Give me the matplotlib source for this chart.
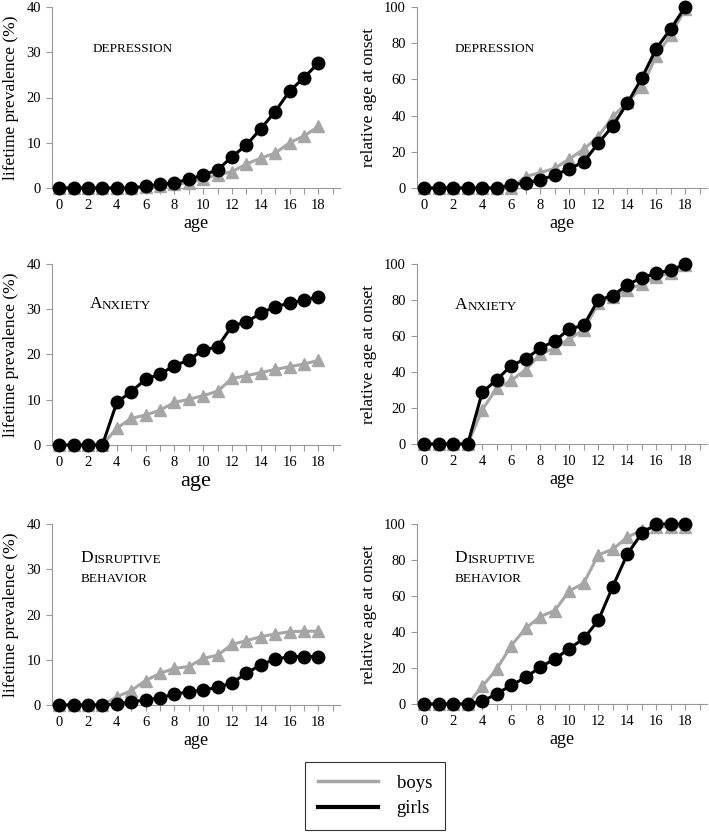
import numpy as np
import matplotlib
matplotlib.use('Agg')
import matplotlib.pyplot as plt
from matplotlib.lines import Line2D

plt.rcParams['font.family'] = ['Liberation Serif', 'DejaVu Serif']

ages = list(range(19))

# lifetime prevalence (%)
dep_boys = [0, 0, 0, 0, 0, 0, 0.2, 0.4, 0.8, 1.2, 2.0, 2.9, 3.6, 5.3, 6.6, 7.7, 10.0, 11.5, 13.6]
dep_girls = [0, 0, 0, 0, 0, 0, 0.4, 0.8, 1.2, 1.9, 2.9, 4.0, 6.9, 9.5, 13.1, 16.9, 21.4, 24.4, 27.6]
anx_boys = [0, 0, 0, 0, 3.7, 5.9, 6.6, 7.7, 9.4, 10.1, 10.9, 11.9, 14.7, 15.3, 16.0, 16.7, 17.3, 17.9, 18.7]
anx_girls = [0, 0, 0, 0, 9.4, 11.8, 14.5, 15.7, 17.5, 18.8, 21.0, 21.7, 26.3, 27.2, 29.1, 30.6, 31.3, 32.0, 32.8]
dis_boys = [0, 0, 0, 0, 1.8, 3.2, 5.4, 7.0, 8.1, 8.5, 10.3, 11.0, 13.4, 14.2, 15.1, 15.7, 16.2, 16.3, 16.3]
dis_girls = [0, 0, 0, 0, 0.2, 0.7, 1.1, 1.6, 2.4, 2.9, 3.3, 3.9, 4.9, 7.0, 8.9, 10.1, 10.7, 10.7, 10.7]

# relative age at onset
dep_rel_boys = [0, 0, 0, 0, 0, 0, 0, 6.3, 8.5, 10.9, 16.0, 21.4, 28.4, 39.4, 47.3, 55.6, 73.0, 84.5, 99.0]
dep_rel_girls = [0, 0, 0, 0, 0, 0, 1.7, 2.9, 4.4, 7.2, 10.5, 14.5, 24.7, 34.3, 46.8, 60.6, 77.0, 88.0, 100]
anx_rel_boys = [0, 0, 0, 0, 19.0, 31.0, 35.3, 41.2, 50.0, 53.2, 58.4, 63.4, 78.2, 81.9, 85.6, 88.9, 92.6, 95.2, 99.6]
anx_rel_girls = [0, 0, 0, 0, 28.7, 35.7, 43.6, 47.3, 53.2, 57.3, 63.8, 66.0, 80.0, 82.4, 88.4, 92.4, 94.8, 96.7, 99.8]
dis_rel_boys = [0, 0, 0, 0, 9.8, 19.4, 32.5, 42.1, 48.6, 51.9, 62.8, 67.1, 82.8, 86.0, 92.6, 96.7, 98.5, 98.5, 98.5]
dis_rel_girls = [0, 0, 0, 0, 1.5, 5.7, 10.4, 14.8, 20.5, 25.0, 30.7, 36.4, 46.4, 65.2, 83.2, 94.8, 100, 100, 100]

GRAY = '#a6a6a6'
AXCOL = '#9a9a9a'

fig = plt.figure(figsize=(7.09, 8.35), dpi=100)

W, H = 709., 835.
def rect(x0, x1, ytop, ybot):
    return [x0/W, 1 - ybot/H, (x1 - x0)/W, (ybot - ytop)/H]

def panel(r, boys, girls, ymax, ystep, ylabel, xlabel_size):
    ax = fig.add_axes(r)
    ax.plot(ages, boys, color=GRAY, lw=2.2, marker='^', ms=8.5, mec=GRAY, mfc=GRAY, zorder=3)
    ax.plot(ages, girls, color='black', lw=2.2, marker='o', ms=9, mec='black', mfc='black', zorder=4)
    ax.set_xlim(-0.5, 19.5)
    ax.set_ylim(0, ymax)
    ax.set_xticks(range(0, 19, 2))
    ax.set_xticks(range(0, 20), minor=True)
    ax.set_yticks(np.arange(0, ymax + 1, ystep))
    for s in ['top', 'right']:
        ax.spines[s].set_visible(False)
    for s in ['left', 'bottom']:
        ax.spines[s].set_color(AXCOL)
        ax.spines[s].set_linewidth(0.8)
    ax.tick_params(which='both', direction='out', color=AXCOL, length=4, width=0.8,
                   labelsize=10.5, pad=4)
    ax.set_ylabel(ylabel, fontsize=12.5, labelpad=5)
    ax.set_xlabel('age', fontsize=xlabel_size, labelpad=2)
    for ln in ax.lines:
        ln.set_clip_on(False)
    return ax

def smallcaps(ax, x, y, first, rest, big=12.5, small=9.5):
    t = ax.text(x, y, first, fontsize=big, va='baseline', ha='left')
    ax.annotate(rest, xy=(1, 0), xycoords=t, fontsize=small, va='bottom', ha='left')
    return t

# top row
ax = panel(rect(52, 340, 7, 188), dep_boys, dep_girls, 40, 10, 'lifetime prevalence (%)', 13)
ax.text(2.3, 30.0, 'DEPRESSION', fontsize=9.5, va='baseline')
ax = panel(rect(417, 707, 7, 188), dep_rel_boys, dep_rel_girls, 100, 20, 'relative age at onset', 13)
ax.text(2.1, 75, 'DEPRESSION', fontsize=9.5, va='baseline')

# middle row
ax = panel(rect(52, 340, 264, 445), anx_boys, anx_girls, 40, 10, 'lifetime prevalence (%)', 16)
smallcaps(ax, 2.1, 30.3, 'A', 'NXIETY')
ax = panel(rect(417, 707, 264, 444), anx_rel_boys, anx_rel_girls, 100, 20, 'relative age at onset', 13)
smallcaps(ax, 2.1, 75, 'A', 'NXIETY')

# bottom row
ax = panel(rect(52, 340, 524, 705), dis_boys, dis_girls, 40, 10, 'lifetime prevalence (%)', 13)
smallcaps(ax, 1.5, 31.6, 'D', 'ISRUPTIVE')
ax.text(1.5, 27.2, 'BEHAVIOR', fontsize=9.5, va='baseline')
ax = panel(rect(417, 707, 524, 704), dis_rel_boys, dis_rel_girls, 100, 20, 'relative age at onset', 13)
smallcaps(ax, 2.1, 78.9, 'D', 'ISRUPTIVE')
ax.text(2.1, 67.8, 'BEHAVIOR', fontsize=9.5, va='baseline')

handles = [Line2D([], [], color=GRAY, lw=2.5), Line2D([], [], color='black', lw=3)]
leg = fig.legend(handles, ['boys', 'girls'], loc='center',
                 bbox_to_anchor=(375/W, 1 - 796/H), fontsize=13.5,
                 frameon=True, fancybox=False, handlelength=3.2, handletextpad=1.0,
                 labelspacing=0.45, borderpad=0.7, borderaxespad=0)
leg.get_frame().set_edgecolor('black')
leg.get_frame().set_linewidth(0.8)

fig.savefig('out.png', dpi=100)
